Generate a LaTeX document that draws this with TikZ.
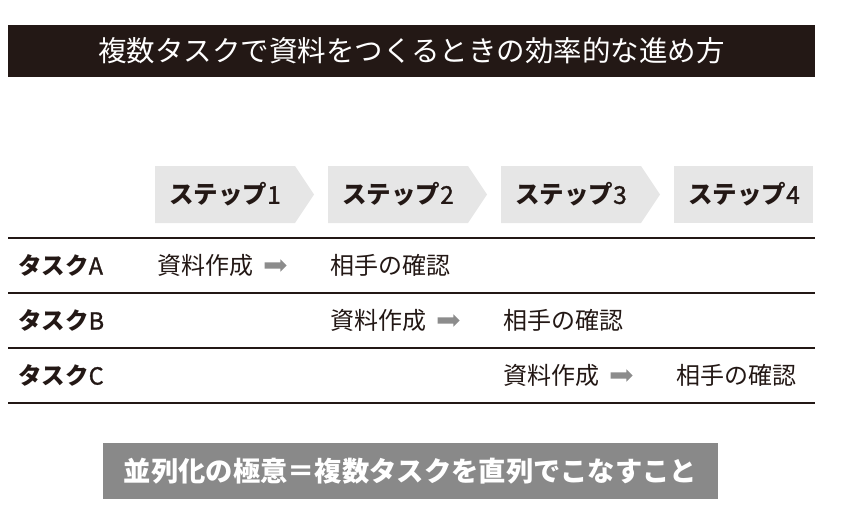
\documentclass[tikz,border=0pt]{standalone}
\usepackage{fontspec}
\setmainfont{Noto Sans CJK JP}
\newfontfamily\medfont[FakeBold=1.2]{Noto Sans CJK JP}
\usetikzlibrary{shapes.arrows, positioning}

\definecolor{inkblack}{HTML}{231815}
\definecolor{stepgray}{HTML}{E6E6E6}
\definecolor{notegray}{HTML}{898989}
\definecolor{arrowgray}{HTML}{8C8C8C}

\begin{document}
\begin{tikzpicture}[
    x=1pt, y=-1pt,
    every node/.style={inner sep=0pt},
    titletext/.style={text=white, font=\fontsize{28.5}{28.5}\selectfont},
    steptext/.style={text=inkblack, font=\fontsize{24.5}{24.5}\selectfont\bfseries},
    tasktext/.style={anchor=west, text=inkblack, font=\fontsize{23.5}{23.5}\selectfont\bfseries},
    celltext/.style={anchor=west, text=inkblack, font=\fontsize{24}{24}\selectfont},
    nextarrow/.style={single arrow, fill=arrowgray, inner sep=3pt,
        minimum height=22pt, single arrow head extend=3pt, right=11pt of #1},
    notetext/.style={text=white, font=\fontsize{27.3}{27.3}\selectfont\bfseries}
]
\useasboundingbox (0,0) rectangle (841,530);

    % title bar
    \fill[inkblack] (8,25) rectangle (815,77);
    \node[titletext] (title) at (411.5,51) {複数タスクで資料をつくるときの効率的な進め方};

    % steps
    \foreach \i in {0,1,2}
        \fill[stepgray] ({155+173*\i},166) -- ++(140,0) -- ++(19,28.5) -- ++(-19,28.5) -- ++(-140,0) -- cycle;
    \fill[stepgray] (674,166) rectangle (813,223);
    \foreach \i in {1,...,4}
        \node[steptext] (step\i) at ({52+173*\i},194.5) {ステップ{\medfont\mdseries\i}};

    % rules
    \foreach \y in {238,293,348,403}
        \draw[line width=1.3pt, inkblack] (8,\y) -- (815,\y);

    % tasks
    \node[tasktext] (taskA) at (18,265.5) {タスク{\medfont\mdseries A}};
    \node[tasktext] (taskB) at (18,320.5) {タスク{\medfont\mdseries B}};
    \node[tasktext] (taskC) at (18,375.5) {タスク{\medfont\mdseries C}};

    \node[celltext] (makeA) at (157,265.5) {資料作成};
    \node[nextarrow=makeA] (arrA) {};
    \node[celltext] (checkA) at (330,265.5) {相手の確認};

    \node[celltext] (makeB) at (330,320.5) {資料作成};
    \node[nextarrow=makeB] (arrB) {};
    \node[celltext] (checkB) at (503,320.5) {相手の確認};

    \node[celltext] (makeC) at (503,375.5) {資料作成};
    \node[nextarrow=makeC] (arrC) {};
    \node[celltext] (checkC) at (676,375.5) {相手の確認};

    % summary
    \fill[notegray] (103,443) rectangle (718,499);
    \node[notetext] (note) at (410.5,471) {並列化の極意＝複数タスクを直列でこなすこと};

\end{tikzpicture}
\end{document}
